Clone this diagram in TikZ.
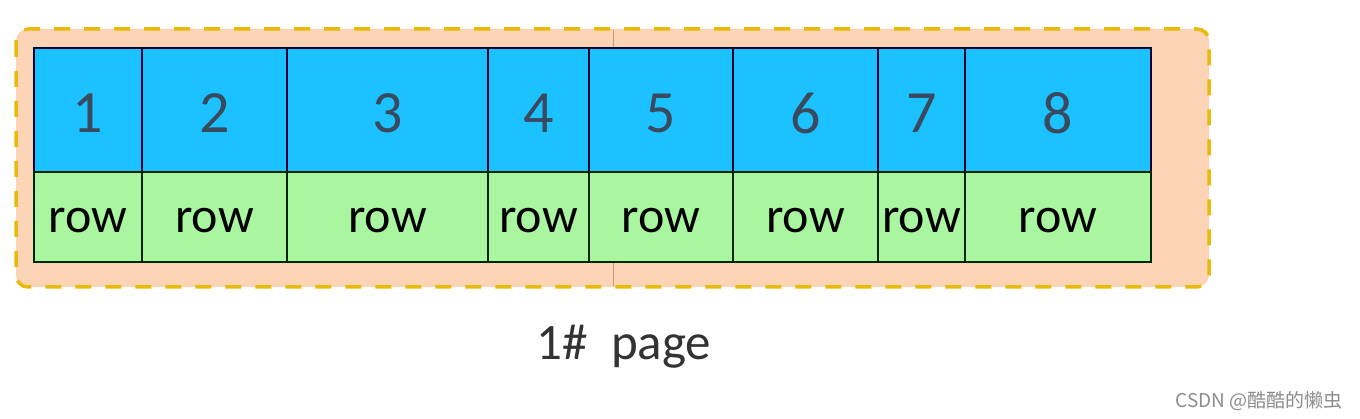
\documentclass[tikz,border=0pt]{standalone}
\usepackage{fontspec}
\setmainfont{Carlito}
\newfontfamily\cjk{Noto Sans CJK SC}
\definecolor{cellblue}{RGB}{28,194,255}
\definecolor{cellgreen}{RGB}{170,246,160}
\definecolor{pagefill}{RGB}{250,212,180}
\definecolor{dashgold}{RGB}{232,186,10}
\definecolor{numcol}{RGB}{58,74,94}
\definecolor{midline}{RGB}{200,150,120}
\tikzset{
  pagebox/.style={draw=dashgold, line width=3.5pt, dash pattern=on 16pt off 14pt, fill=pagefill, rounded corners=12pt},
  numcell/.style={draw=black!80!blue, line width=1.2pt, fill=cellblue},
  rowcell/.style={draw=black!85!green, line width=1.2pt, fill=cellgreen},
  numtext/.style={font=\fontsize{60}{60}\selectfont, text=numcol},
  rowtext/.style={font=\fontsize{50}{50}\selectfont, text=black},
}
\begin{document}
\begin{tikzpicture}[x=1pt,y=-1pt]
\useasboundingbox (0,0) rectangle (1360,419);
\fill[white] (0,0) rectangle (1360,419);
\draw[pagebox] (16,29) rectangle (1209,287);
\draw[midline, line width=0.6pt] (613,30) -- (613,286);
\foreach \i/\a/\b in {1/34/142, 2/142/287, 3/287/488, 4/488/589, 5/589/733, 6/733/878, 7/878/965, 8/965/1151} {
  \draw[numcell] (\a,48) rectangle (\b,172);
  \draw[rowcell] (\a,172) rectangle (\b,262);
  \node[numtext] (n\i) at ({(\a+\b)/2},113) {\i};
  \node[rowtext] (r\i) at ({(\a+\b)/2},221) {row};
}
\node[font=\fontsize{51}{51}\selectfont, text=black!80] (title) at (624,347) {1\#\ \ page};
\node[font=\cjk\fontsize{19}{19}\selectfont, text=black!45, anchor=east] (wm) at (1346,401) {CSDN @酷酷的懒虫};
\end{tikzpicture}
\end{document}
